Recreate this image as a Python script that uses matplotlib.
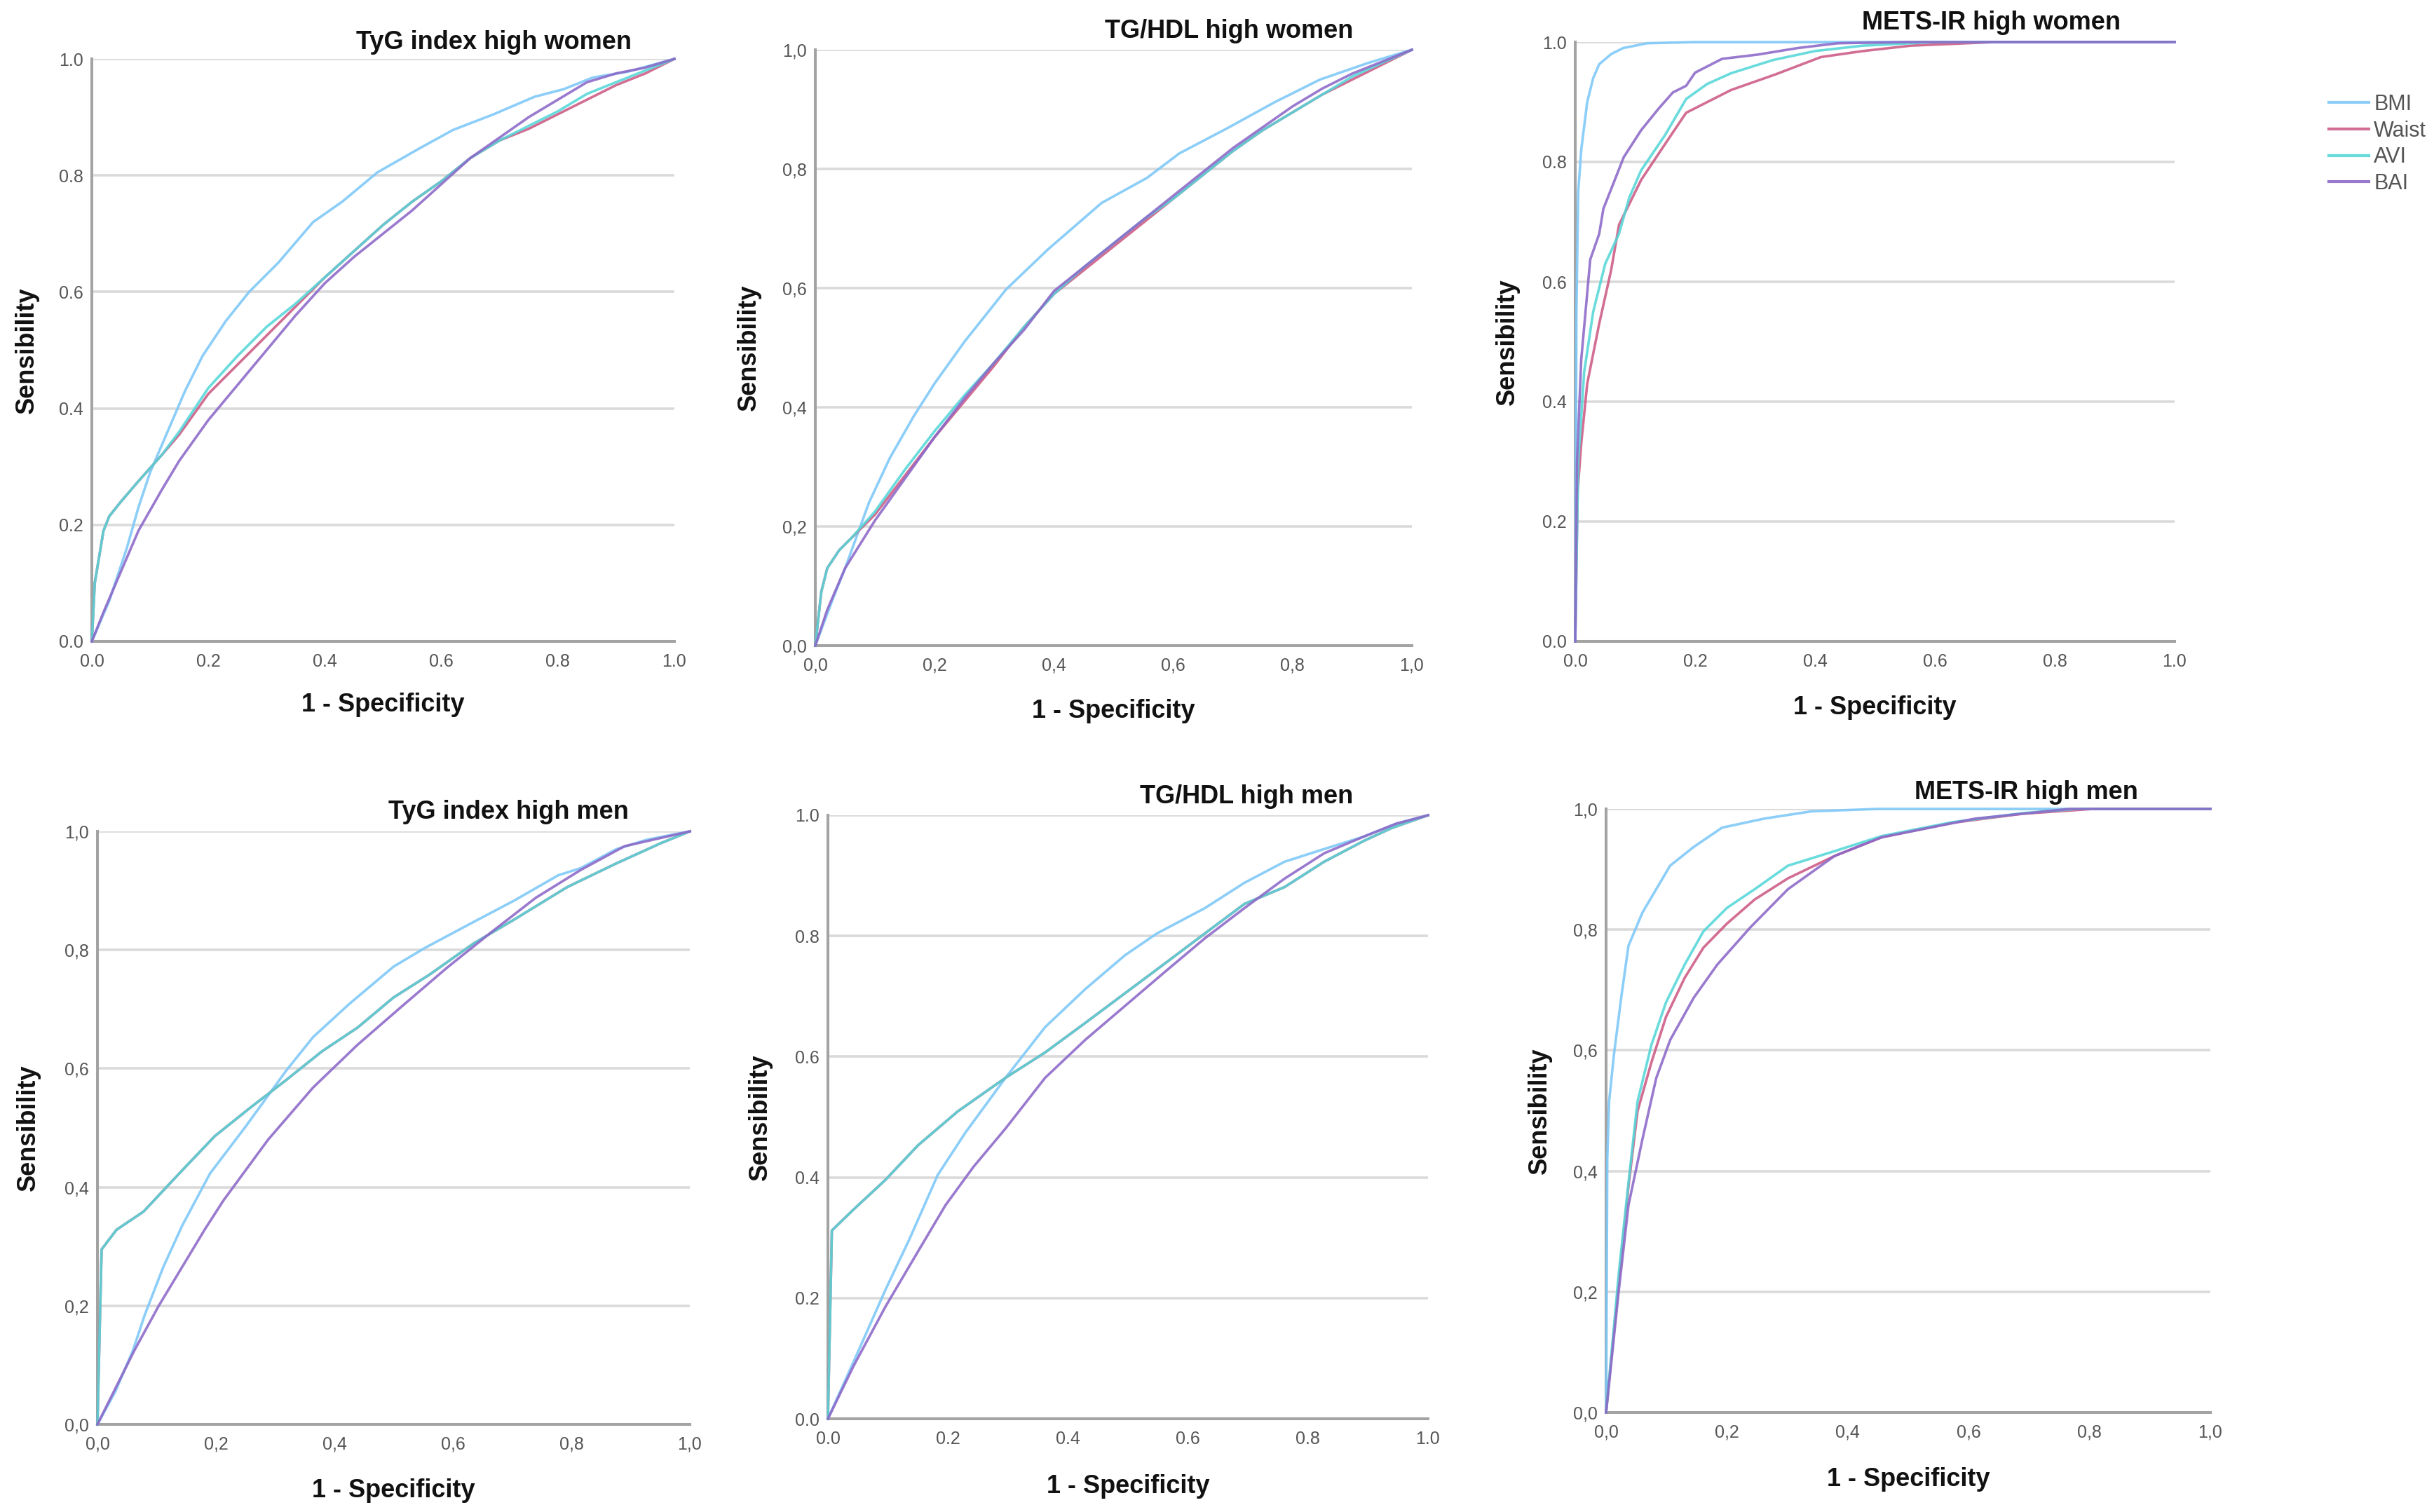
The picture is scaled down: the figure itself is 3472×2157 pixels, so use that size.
import matplotlib
matplotlib.use("Agg")
import matplotlib.pyplot as plt

plt.rcParams['font.family'] = ['Liberation Sans', 'DejaVu Sans']

W, H = 3473, 2157

series_names = ["BMI", "Waist", "AVI", "BAI"]
series_colors = ["#7cc8f8", "#cc5a84", "#55d6d8", "#8c68c8"]

# (1 - specificity, sensibility) points
tyg_w_bmi = [(0, 0), (0.03, 0.07), (0.06, 0.16), (0.08, 0.23), (0.10, 0.29), (0.13, 0.36), (0.16, 0.43),
             (0.19, 0.49), (0.23, 0.55), (0.27, 0.60), (0.32, 0.65), (0.38, 0.72), (0.43, 0.755), (0.49, 0.805),
             (0.56, 0.845), (0.62, 0.878), (0.69, 0.905), (0.76, 0.935), (0.81, 0.948), (0.86, 0.968),
             (0.92, 0.978), (1, 1)]
tyg_w_waist = [(0, 0), (0.005, 0.10), (0.02, 0.19), (0.03, 0.215), (0.05, 0.24), (0.08, 0.275), (0.12, 0.32),
               (0.15, 0.355), (0.2, 0.425), (0.25, 0.475), (0.3, 0.525), (0.35, 0.575), (0.4, 0.625), (0.45, 0.67),
               (0.5, 0.715), (0.55, 0.755), (0.6, 0.79), (0.65, 0.83), (0.7, 0.86), (0.75, 0.88), (0.8, 0.905),
               (0.85, 0.93), (0.9, 0.955), (0.95, 0.975), (1, 1)]
tyg_w_avi = [(0, 0), (0.005, 0.10), (0.02, 0.19), (0.03, 0.215), (0.05, 0.24), (0.08, 0.275), (0.12, 0.32),
             (0.15, 0.36), (0.2, 0.435), (0.25, 0.49), (0.3, 0.54), (0.35, 0.58), (0.4, 0.625), (0.45, 0.67),
             (0.5, 0.715), (0.55, 0.755), (0.6, 0.79), (0.65, 0.83), (0.7, 0.86), (0.75, 0.885), (0.8, 0.91),
             (0.85, 0.94), (0.9, 0.96), (0.95, 0.98), (1, 1)]
tyg_w_bai = [(0, 0), (0.02, 0.05), (0.05, 0.12), (0.08, 0.19), (0.12, 0.26), (0.15, 0.31), (0.2, 0.38),
             (0.25, 0.44), (0.3, 0.5), (0.35, 0.56), (0.4, 0.615), (0.45, 0.66), (0.5, 0.70), (0.55, 0.74),
             (0.6, 0.785), (0.65, 0.83), (0.7, 0.865), (0.75, 0.9), (0.8, 0.93), (0.85, 0.96), (0.9, 0.975),
             (0.95, 0.985), (1, 1)]

tghdl_w_bmi = [(0, 0), (0.03, 0.08), (0.05, 0.13), (0.09, 0.24), (0.125, 0.315), (0.165, 0.385), (0.2, 0.44),
               (0.25, 0.51), (0.32, 0.598), (0.39, 0.665), (0.48, 0.743), (0.556, 0.785), (0.61, 0.826),
               (0.69, 0.868), (0.77, 0.912), (0.846, 0.95), (0.927, 0.978), (1, 1)]
tghdl_w_waist = [(0, 0), (0.01, 0.09), (0.02, 0.13), (0.04, 0.16), (0.06, 0.18), (0.1, 0.22), (0.15, 0.285),
                 (0.2, 0.35), (0.25, 0.41), (0.3, 0.47), (0.35, 0.535), (0.4, 0.59), (0.45, 0.63), (0.5, 0.67),
                 (0.55, 0.71), (0.6, 0.75), (0.65, 0.79), (0.7, 0.83), (0.75, 0.865), (0.8, 0.895), (0.85, 0.925),
                 (0.9, 0.95), (0.95, 0.975), (1, 1)]
tghdl_w_avi = [(0, 0), (0.01, 0.09), (0.02, 0.13), (0.04, 0.16), (0.06, 0.18), (0.1, 0.225), (0.15, 0.295),
               (0.2, 0.36), (0.25, 0.42), (0.3, 0.475), (0.35, 0.535), (0.4, 0.59), (0.45, 0.635), (0.5, 0.675),
               (0.55, 0.715), (0.6, 0.75), (0.65, 0.79), (0.7, 0.83), (0.75, 0.865), (0.8, 0.895), (0.85, 0.925),
               (0.9, 0.955), (0.95, 0.978), (1, 1)]
tghdl_w_bai = [(0, 0), (0.02, 0.06), (0.05, 0.13), (0.1, 0.21), (0.15, 0.28), (0.2, 0.35), (0.25, 0.415),
               (0.3, 0.475), (0.35, 0.53), (0.4, 0.595), (0.45, 0.635), (0.5, 0.675), (0.55, 0.715), (0.6, 0.755),
               (0.65, 0.795), (0.7, 0.835), (0.75, 0.87), (0.8, 0.905), (0.85, 0.935), (0.9, 0.96), (0.95, 0.98),
               (1, 1)]

mets_w_bmi = [(0, 0), (0.002, 0.55), (0.005, 0.75), (0.01, 0.82), (0.02, 0.9), (0.03, 0.94), (0.04, 0.963),
              (0.06, 0.98), (0.08, 0.99), (0.12, 0.998), (0.2, 1.0), (1, 1)]
mets_w_waist = [(0, 0), (0.004, 0.25), (0.01, 0.33), (0.02, 0.43), (0.04, 0.53), (0.06, 0.62), (0.073, 0.695),
                (0.11, 0.77), (0.15, 0.83), (0.185, 0.882), (0.26, 0.92), (0.334, 0.946), (0.41, 0.975),
                (0.48, 0.985), (0.56, 0.994), (0.7, 1), (1, 1)]
mets_w_avi = [(0, 0), (0.005, 0.3), (0.015, 0.45), (0.03, 0.55), (0.05, 0.63), (0.073, 0.68), (0.09, 0.74),
              (0.11, 0.786), (0.15, 0.845), (0.185, 0.905), (0.22, 0.93), (0.26, 0.948), (0.33, 0.97),
              (0.4, 0.985), (0.48, 0.994), (0.6, 1.0), (1, 1)]
mets_w_bai = [(0, 0), (0.003, 0.3), (0.01, 0.47), (0.025, 0.637), (0.04, 0.68), (0.047, 0.722), (0.066, 0.77),
              (0.081, 0.808), (0.11, 0.853), (0.14, 0.89), (0.163, 0.916), (0.185, 0.927), (0.2, 0.949),
              (0.245, 0.972), (0.304, 0.979), (0.371, 0.99), (0.438, 0.998), (0.55, 1), (1, 1)]

tyg_m_bmi = [(0, 0), (0.03, 0.055), (0.06, 0.125), (0.08, 0.185), (0.111, 0.265), (0.143, 0.335), (0.19, 0.423),
             (0.25, 0.502), (0.319, 0.597), (0.364, 0.653), (0.424, 0.708), (0.5, 0.772), (0.552, 0.803),
             (0.627, 0.843), (0.703, 0.883), (0.778, 0.926), (0.816, 0.938), (0.876, 0.97), (0.928, 0.986), (1, 1)]
tyg_m_waist = [(0, 0), (0.007, 0.295), (0.032, 0.328), (0.078, 0.359), (0.138, 0.423), (0.198, 0.486),
               (0.258, 0.534), (0.319, 0.581), (0.379, 0.629), (0.439, 0.669), (0.5, 0.72), (0.56, 0.758),
               (0.635, 0.811), (0.703, 0.851), (0.793, 0.906), (0.876, 0.946), (0.951, 0.98), (1, 1)]
tyg_m_avi = [(0, 0), (0.007, 0.295), (0.032, 0.328), (0.078, 0.359), (0.138, 0.423), (0.198, 0.486),
             (0.258, 0.534), (0.319, 0.581), (0.379, 0.629), (0.439, 0.669), (0.5, 0.72), (0.56, 0.758),
             (0.635, 0.811), (0.703, 0.851), (0.793, 0.906), (0.876, 0.946), (0.951, 0.98), (1, 1)]
tyg_m_bai = [(0, 0), (0.0625, 0.125), (0.1035, 0.2), (0.182, 0.33), (0.213, 0.378), (0.288, 0.48),
             (0.364, 0.568), (0.439, 0.64), (0.514, 0.705), (0.59, 0.77), (0.665, 0.83), (0.74, 0.888),
             (0.816, 0.935), (0.89, 0.975), (1, 1)]

tghdl_m_bmi = [(0, 0), (0.043, 0.095), (0.096, 0.214), (0.136, 0.298), (0.183, 0.404), (0.229, 0.474),
               (0.296, 0.565), (0.362, 0.649), (0.429, 0.712), (0.495, 0.768), (0.548, 0.804), (0.628, 0.846),
               (0.694, 0.888), (0.761, 0.923), (0.827, 0.944), (0.894, 0.965), (0.947, 0.986), (1, 1)]
tghdl_m_waist = [(0, 0), (0.0066, 0.312), (0.043, 0.347), (0.096, 0.396), (0.15, 0.453), (0.216, 0.509),
                 (0.296, 0.565), (0.362, 0.607), (0.429, 0.656), (0.495, 0.705), (0.561, 0.754), (0.628, 0.804),
                 (0.694, 0.853), (0.761, 0.881), (0.827, 0.923), (0.894, 0.958), (0.94, 0.979), (1, 1)]
tghdl_m_avi = [(0, 0), (0.0066, 0.312), (0.043, 0.347), (0.096, 0.396), (0.15, 0.453), (0.216, 0.509),
               (0.296, 0.565), (0.362, 0.607), (0.429, 0.656), (0.495, 0.705), (0.561, 0.754), (0.628, 0.804),
               (0.694, 0.853), (0.761, 0.881), (0.827, 0.923), (0.894, 0.958), (0.94, 0.979), (1, 1)]
tghdl_m_bai = [(0, 0), (0.043, 0.088), (0.096, 0.186), (0.15, 0.277), (0.196, 0.354), (0.243, 0.418),
               (0.296, 0.481), (0.362, 0.565), (0.429, 0.628), (0.495, 0.684), (0.561, 0.74), (0.628, 0.796),
               (0.694, 0.846), (0.761, 0.895), (0.827, 0.937), (0.894, 0.965), (0.947, 0.986), (1, 1)]

mets_m_bmi = [(0, 0), (0.002, 0.42), (0.005, 0.515), (0.013, 0.593), (0.025, 0.687), (0.037, 0.773),
              (0.06, 0.828), (0.083, 0.867), (0.106, 0.906), (0.145, 0.937), (0.192, 0.969), (0.262, 0.984),
              (0.34, 0.996), (0.45, 1.0), (1, 1)]
mets_m_waist = [(0, 0), (0.021, 0.218), (0.037, 0.374), (0.052, 0.499), (0.075, 0.58), (0.099, 0.655),
                (0.13, 0.72), (0.161, 0.77), (0.2, 0.81), (0.246, 0.85), (0.301, 0.885), (0.378, 0.922),
                (0.456, 0.953), (0.573, 0.977), (0.689, 0.992), (0.806, 1.0), (1, 1)]
mets_m_avi = [(0, 0), (0.021, 0.23), (0.037, 0.38), (0.052, 0.515), (0.075, 0.609), (0.099, 0.679),
              (0.13, 0.742), (0.161, 0.797), (0.2, 0.836), (0.246, 0.867), (0.301, 0.906), (0.378, 0.93),
              (0.456, 0.955), (0.573, 0.978), (0.689, 0.993), (0.78, 1.0), (1, 1)]
mets_m_bai = [(0, 0), (0.021, 0.202), (0.037, 0.343), (0.06, 0.452), (0.083, 0.554), (0.106, 0.617),
              (0.145, 0.687), (0.184, 0.742), (0.239, 0.804), (0.301, 0.867), (0.378, 0.922), (0.456, 0.953),
              (0.611, 0.984), (0.767, 1.0), (1, 1)]

titles = ["TyG index high women", "TG/HDL high women", "METS-IR high women",
          "TyG index high men", "TG/HDL high men", "METS-IR high men"]
panel_series = [
    [tyg_w_bmi, tyg_w_waist, tyg_w_avi, tyg_w_bai],
    [tghdl_w_bmi, tghdl_w_waist, tghdl_w_avi, tghdl_w_bai],
    [mets_w_bmi, mets_w_waist, mets_w_avi, mets_w_bai],
    [tyg_m_bmi, tyg_m_waist, tyg_m_avi, tyg_m_bai],
    [tghdl_m_bmi, tghdl_m_waist, tghdl_m_avi, tghdl_m_bai],
    [mets_m_bmi, mets_m_waist, mets_m_avi, mets_m_bai],
]
tick_values = [0.0, 0.2, 0.4, 0.6, 0.8, 1.0]
decimal_sep = [".", ",", ".", ",", ".", ","]

# layout in pixels: axes box (left, top, right, bottom), title centre, x label centre, y label centre x
boxes = [(131, 84, 962, 915), (1163, 71, 2014, 921), (2247, 60, 3102, 915),
         (139, 1186, 984, 2032), (1181, 1163, 2037, 2024), (2291, 1154, 3153, 2015)]
title_pos = [(705, 60), (1753, 44), (2841, 33), (725, 1159), (1778, 1137), (2890, 1130)]
xlabel_y = [1006, 1015, 1010, 2127, 2121, 2110]
ylabel_x = [38, 1068, 2150, 40, 1084, 2196]

fig = plt.figure(figsize=(W / 100, H / 100), dpi=100)
fig.patch.set_facecolor("white")

for i in range(6):
    l, t, r, b = boxes[i]
    ax = fig.add_axes([l / W, 1 - b / H, (r - l) / W, (b - t) / H])
    for data, name, col in zip(panel_series[i], series_names, series_colors):
        xs = [p[0] for p in data]
        ys = [p[1] for p in data]
        ax.plot(xs, ys, color=col, lw=2.6, alpha=0.88, label=name, clip_on=False, zorder=3,
                solid_joinstyle="round")
    ax.set_xlim(0, 1)
    ax.set_ylim(0, 1)
    ax.set_xticks(tick_values)
    ax.set_yticks(tick_values)
    labs = [("%.1f" % v).replace(".", decimal_sep[i]) for v in tick_values]
    ax.set_xticklabels(labs)
    ax.set_yticklabels(labs)
    ax.tick_params(length=0, labelsize=18, labelcolor="#555555")
    ax.tick_params(axis="x", pad=12)
    ax.tick_params(axis="y", pad=9)
    ax.yaxis.grid(True, color="#dadada", lw=2.6)
    ax.set_axisbelow(True)
    for s in ["top", "right"]:
        ax.spines[s].set_visible(False)
    for s in ["left", "bottom"]:
        ax.spines[s].set_color("#a3a3a3")
        ax.spines[s].set_linewidth(2.9)

    ax.set_xlabel("1 - Specificity", fontsize=26, fontweight="bold", color="#111111")
    ax.xaxis.set_label_coords(0.5, -(xlabel_y[i] - b) / (b - t))
    ax.xaxis.label.set_va("center")
    ax.set_ylabel("Sensibility", fontsize=26, fontweight="bold", color="#111111")
    ax.yaxis.set_label_coords(-(l - ylabel_x[i]) / (r - l), 0.5)
    ax.yaxis.label.set_va("center")

    fig.text(title_pos[i][0] / W, 1 - title_pos[i][1] / H, titles[i], ha="center", va="center",
             fontsize=26, fontweight="bold", color="#111111")

    if i == 0:
        handles, names = ax.get_legend_handles_labels()

leg = fig.legend(handles, names, loc="upper left", bbox_to_anchor=(3322 / W, 1 - 134 / H),
                 frameon=False, fontsize=22, handlelength=1.85, handletextpad=0.25,
                 labelspacing=0.25, borderpad=0, borderaxespad=0, labelcolor="#555555")
for ln in leg.get_lines():
    ln.set_linewidth(3)

fig.savefig("out.png", dpi=100, facecolor="white")
